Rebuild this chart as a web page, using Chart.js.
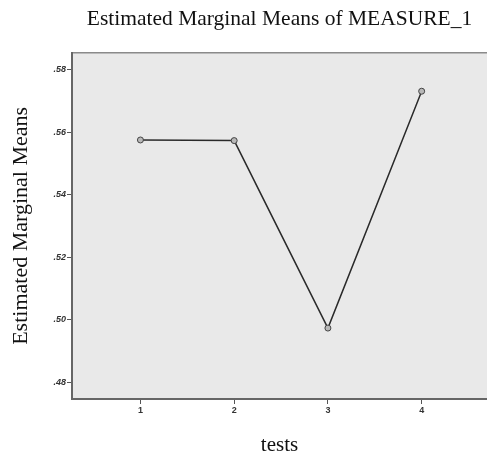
<!DOCTYPE html>
<html>
<head>
<meta charset="utf-8">
<script src="https://cdn.jsdelivr.net/npm/chart.js@4"></script>
<style>
  html, body { margin: 0; padding: 0; background: #fff; }
  #wrap { width: 487px; height: 452px; }
</style>
</head>
<body>
<div id="wrap"><canvas id="emmChart"></canvas></div>
<script>
// Data
const tests = [1, 2, 3, 4];
const means = [0.5575, 0.5573, 0.4973, 0.5731];
const yTicks = [0.48, 0.50, 0.52, 0.54, 0.56, 0.58];

// Gray plot background plus the frame lines
const plotFrame = {
    id: 'plotFrame',
    beforeDraw(chart) {
        const { ctx, chartArea: a } = chart;
        ctx.save();
        ctx.fillStyle = '#e9e9e9';
        ctx.fillRect(a.left, a.top, a.right - a.left, a.bottom - a.top);
        ctx.strokeStyle = '#8a8a8a';
        ctx.lineWidth = 1.5;
        ctx.beginPath();
        ctx.moveTo(a.left, a.top);
        ctx.lineTo(a.right, a.top);
        ctx.stroke();
        ctx.restore();
    },
    afterLayout(chart) {
        // center the chart title over the plot, not the canvas
        if (chart.titleBlock) {
            chart.titleBlock.left = chart.chartArea.left;
            chart.titleBlock.right = chart.chartArea.right;
        }
    }
};

document.addEventListener('DOMContentLoaded', () => {
    const ctx = document.getElementById('emmChart').getContext('2d');
    new Chart(ctx, {
        type: 'line',
        data: {
            datasets: [{
                data: tests.map((t, i) => ({ x: t, y: means[i] })),
                borderColor: '#2a2a2a',
                borderWidth: 1.5,
                tension: 0,
                pointRadius: 3,
                pointBorderWidth: 1,
                pointBorderColor: '#444',
                pointBackgroundColor: '#b8b8b8'
            }]
        },
        options: {
            responsive: true,
            maintainAspectRatio: false,
            animation: false,
            layout: { padding: 0, autoPadding: false },
            plugins: {
                legend: { display: false },
                tooltip: { enabled: false },
                title: {
                    display: true,
                    text: 'Estimated Marginal Means of MEASURE_1',
                    color: '#111',
                    font: { family: 'Liberation Serif', size: 21.5, weight: 'normal', lineHeight: 1.2 },
                    padding: { top: 6, bottom: 21 }
                }
            },
            scales: {
                x: {
                    type: 'linear',
                    min: 0.27,
                    max: 4.697,
                    afterBuildTicks: s => { s.ticks = tests.map(v => ({ value: v })); },
                    afterFit: s => { s.height = 53; s.paddingLeft = 0; s.paddingRight = 0; },
                    ticks: {
                        color: '#333',
                        padding: 1,
                        font: { family: 'Liberation Sans', size: 9, weight: 'bold' },
                        callback: v => String(v)
                    },
                    grid: { display: true, drawOnChartArea: false, tickLength: 5, color: '#555', lineWidth: 1 },
                    border: { display: true, color: '#666', width: 2 },
                    title: {
                        display: true,
                        text: 'tests',
                        color: '#111',
                        font: { family: 'Liberation Serif', size: 21, lineHeight: 1 },
                        padding: { top: 0, bottom: -4 }
                    }
                },
                y: {
                    min: 0.4746,
                    max: 0.5854,
                    afterBuildTicks: s => { s.ticks = yTicks.map(v => ({ value: v })); },
                    afterFit: s => { s.width = 72; },
                    ticks: {
                        color: '#333',
                        padding: 1,
                        font: { family: 'Liberation Sans', size: 9, weight: 'bold', style: 'italic' },
                        callback: v => v.toFixed(2).replace(/^0/, '')
                    },
                    grid: { display: true, drawOnChartArea: false, tickLength: 5, color: '#555', lineWidth: 1 },
                    border: { display: true, color: '#666', width: 2 },
                    title: {
                        display: true,
                        text: 'Estimated Marginal Means',
                        color: '#111',
                        font: { family: 'Liberation Serif', size: 22, lineHeight: 1.2 },
                        padding: { top: 8, bottom: 0 }
                    }
                }
            }
        },
        plugins: [plotFrame]
    });
});
</script>
</body>
</html>
